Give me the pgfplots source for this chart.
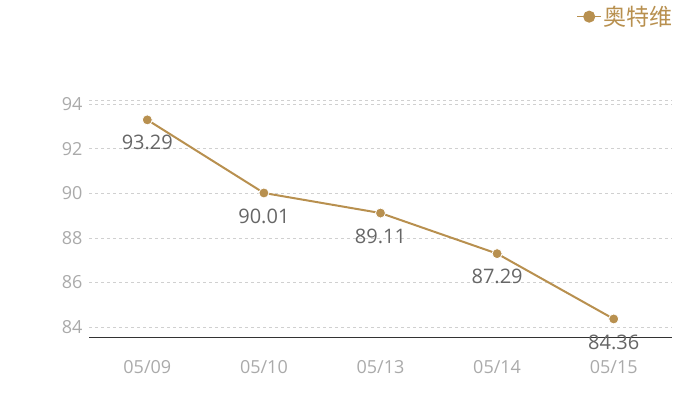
\documentclass[border=0pt]{standalone}
\usepackage{pgfplots}
\pgfplotsset{compat=1.18}
\usepackage{fontspec}
\setmainfont{Open Sans}
\newfontfamily\cjk{Noto Sans CJK SC}
\definecolor{gold}{HTML}{B8904F}
\definecolor{ticktxt}{HTML}{AAAAAA}
\definecolor{lbltxt}{HTML}{666666}
\definecolor{gridc}{HTML}{D0D0D0}
\begin{document}
\begin{tikzpicture}[x=1pt,y=1pt]
\useasboundingbox (0,0) rectangle (700,400);
\begin{axis}[
  at={(89pt,63pt)}, anchor=south west,
  scale only axis, width=583pt, height=237pt,
  xmin=-0.5, xmax=4.5, ymin=83.55, ymax=94.18,
  xtick={0,1,2,3,4},
  xticklabels={05/09,05/10,05/13,05/14,05/15},
  ytick={84,86,88,90,92,94},
  /pgf/number format/assume math mode=true,
  /pgf/number format/fixed,
  axis x line*=bottom, axis y line*=left,
  x axis line style={draw=black!80, line width=0.8pt, -},
  y axis line style={draw=none},
  ymajorgrids, grid style={gridc, dashed, line width=0.5pt},
  major tick length=0pt,
  yticklabel style={font=\fontsize{18}{18}\selectfont, text=ticktxt, xshift=-3pt},
  xticklabel style={font=\fontsize{18}{18}\selectfont, text=ticktxt, yshift=-20pt},
  clip=false,
  legend style={draw=none, fill=none, at={(1.005,1.405)}, anchor=north east,
    font=\cjk\fontsize{23}{23}\selectfont, text=gold, inner sep=0pt},
  legend image code/.code={\draw[line width=1pt] (0pt,0pt) -- (24pt,0pt); \fill[gold] (12pt,0pt) circle (5pt);},
  legend cell align=left,
]
\draw[gridc, dashed, line width=0.5pt] (rel axis cs:0,1) -- (rel axis cs:1,1);
\addplot[gold, line width=2pt, mark=*, mark size=5pt,
  mark options={fill=gold, draw=white, line width=0.8pt},
  nodes near coords,
  point meta=explicit symbolic,
  every node near coord/.style={anchor=center, yshift=-23pt, text=lbltxt, font=\fontsize{20}{20}\selectfont}]
  coordinates {
  (0,93.29) [93.29]
  (1,90.01) [90.01]
  (2,89.11) [89.11]
  (3,87.29) [87.29]
  (4,84.36) [84.36]
  };
\addlegendentry{奥特维}
\end{axis}
\end{tikzpicture}
\end{document}
